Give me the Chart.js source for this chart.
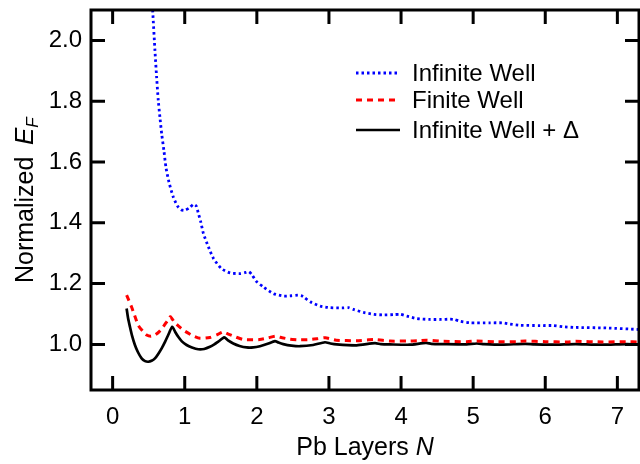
<!DOCTYPE html>
<html>
<head>
<meta charset="utf-8">
<script src="https://cdn.jsdelivr.net/npm/chart.js@4"></script>
<style>
  body { margin: 0; background: #fff; }
  #wrap { width: 640px; height: 464px; }
</style>
</head>
<body>
<div id="wrap"><canvas id="efChart" width="640" height="464"></canvas></div>
<script>
// 数据：从图上读取
const infiniteN = [0.555, 0.587, 0.61, 0.633, 0.656, 0.68, 0.711, 0.739, 0.781, 0.841, 0.90, 0.95, 1.00, 1.07, 1.12, 1.16, 1.19, 1.22, 1.26, 1.33, 1.40, 1.51, 1.63, 1.77, 1.85, 1.89, 1.93, 1.99, 2.09, 2.23, 2.37, 2.48, 2.57, 2.62, 2.66, 2.74, 2.88, 3.01, 3.18, 3.27, 3.34, 3.48, 3.62, 3.75, 3.90, 3.99, 4.08, 4.22, 4.40, 4.55, 4.68, 4.74, 4.82, 4.96, 5.23, 5.40, 5.51, 5.65, 5.93, 6.11, 6.25, 6.39, 6.85, 7.3];
const infiniteE = [2.10, 1.966, 1.879, 1.802, 1.747, 1.693, 1.638, 1.583, 1.534, 1.485, 1.455, 1.443, 1.441, 1.450, 1.461, 1.455, 1.430, 1.405, 1.364, 1.320, 1.282, 1.249, 1.235, 1.233, 1.237, 1.239, 1.230, 1.208, 1.189, 1.167, 1.159, 1.160, 1.162, 1.160, 1.154, 1.140, 1.126, 1.121, 1.120, 1.121, 1.115, 1.105, 1.099, 1.097, 1.098, 1.099, 1.093, 1.085, 1.082, 1.082, 1.083, 1.082, 1.076, 1.071, 1.071, 1.071, 1.067, 1.063, 1.062, 1.062, 1.058, 1.056, 1.054, 1.049];

const finiteN = [0.194, 0.263, 0.355, 0.42, 0.471, 0.53, 0.587, 0.65, 0.702, 0.76, 0.80, 0.864, 0.98, 1.10, 1.211, 1.35, 1.45, 1.53, 1.604, 1.70, 1.81, 1.95, 2.04, 2.15, 2.26, 2.35, 2.46, 2.6, 2.74, 2.85, 2.95, 3.1, 3.38, 3.55, 3.64, 3.85, 4.08, 4.25, 4.35, 4.59, 4.91, 5.05, 5.3, 5.6, 5.72, 6.0, 6.3, 6.42, 6.8, 7.12, 7.3];
const finiteE = [1.162, 1.123, 1.063, 1.043, 1.031, 1.027, 1.031, 1.043, 1.058, 1.078, 1.091, 1.071, 1.047, 1.030, 1.020, 1.023, 1.032, 1.041, 1.034, 1.025, 1.016, 1.015, 1.016, 1.021, 1.027, 1.022, 1.017, 1.015, 1.016, 1.019, 1.022, 1.014, 1.012, 1.015, 1.016, 1.011, 1.011, 1.012, 1.014, 1.010, 1.009, 1.011, 1.009, 1.009, 1.011, 1.009, 1.008, 1.010, 1.008, 1.009, 1.008];

const deltaN = [0.194, 0.215, 0.24, 0.27, 0.309, 0.35, 0.402, 0.45, 0.494, 0.54, 0.587, 0.63, 0.68, 0.73, 0.771, 0.827, 0.87, 0.91, 0.96, 1.026, 1.10, 1.187, 1.27, 1.35, 1.41, 1.465, 1.548, 1.60, 1.673, 1.76, 1.858, 1.95, 2.043, 2.15, 2.251, 2.30, 2.366, 2.48, 2.598, 2.78, 2.944, 3.02, 3.107, 3.384, 3.638, 3.72, 3.846, 4.12, 4.345, 4.42, 4.585, 4.91, 5.05, 5.15, 5.4, 5.72, 5.85, 6.1, 6.42, 6.55, 6.8, 7.13, 7.25, 7.3];
const deltaE = [1.118, 1.085, 1.058, 1.028, 0.998, 0.975, 0.954, 0.945, 0.943, 0.946, 0.954, 0.968, 0.987, 1.010, 1.031, 1.058, 1.040, 1.025, 1.010, 0.998, 0.990, 0.984, 0.985, 0.992, 1.000, 1.009, 1.023, 1.013, 1.003, 0.995, 0.990, 0.990, 0.994, 1.002, 1.011, 1.006, 1.001, 0.996, 0.994, 0.998, 1.007, 1.003, 1.000, 0.997, 1.004, 1.001, 1.000, 0.999, 1.005, 1.002, 1.001, 1.000, 1.003, 1.001, 0.999, 1.002, 1.000, 0.999, 1.001, 1.000, 0.999, 1.001, 1.000, 1.000];

const seriesLabels = ['Infinite Well', 'Finite Well', 'Infinite Well + \u0394'];
const xRange = [-0.3, 7.3];
const yRange = [0.85, 2.1];

const FONT = '"Liberation Sans", Arial, Helvetica, sans-serif';

const toPoints = (xs, ys) => xs.map((x, i) => ({ x: x, y: ys[i] }));

// 线型
const lineStyles = [
    { color: '#0000ff', width: 2.8, dash: [2.5, 3] },
    { color: '#ff0000', width: 3, dash: [6, 5] },
    { color: '#000000', width: 2.7, dash: [] },
];

// 边框、内向刻度、图例和坐标轴标题
const framePlugin = {
    id: 'frame',
    afterDraw(chart) {
        const { ctx, chartArea: a, scales } = chart;
        const x = scales.x, y = scales.y;
        ctx.save();
        ctx.strokeStyle = '#000';
        ctx.lineWidth = 3;
        ctx.strokeRect(a.left, a.top, a.right - a.left, a.bottom - a.top);

        const tick = 14;
        ctx.beginPath();
        x.ticks.forEach(t => {
            const px = x.getPixelForValue(t.value);
            ctx.moveTo(px, a.bottom); ctx.lineTo(px, a.bottom - tick);
            ctx.moveTo(px, a.top); ctx.lineTo(px, a.top + tick);
        });
        y.ticks.forEach(t => {
            const py = y.getPixelForValue(t.value);
            ctx.moveTo(a.left, py); ctx.lineTo(a.left + tick, py);
            ctx.moveTo(a.right, py); ctx.lineTo(a.right - tick, py);
        });
        ctx.stroke();

        // 图例
        ctx.font = '24px ' + FONT;
        ctx.fillStyle = '#000';
        ctx.textBaseline = 'middle';
        ctx.textAlign = 'left';
        const legendY = [73, 100, 130];
        seriesLabels.forEach((label, i) => {
            const s = lineStyles[i];
            ctx.beginPath();
            ctx.strokeStyle = s.color;
            ctx.lineWidth = s.width;
            ctx.setLineDash(s.dash);
            ctx.moveTo(356, legendY[i]);
            ctx.lineTo(400, legendY[i]);
            ctx.stroke();
            ctx.fillText(label, 412, legendY[i] + 1);
        });
        ctx.setLineDash([]);

        // x 轴标题
        ctx.textBaseline = 'alphabetic';
        const xPlain = 'Pb Layers ';
        ctx.font = '25px ' + FONT;
        const w1 = ctx.measureText(xPlain).width;
        ctx.font = 'italic 25px ' + FONT;
        const w2 = ctx.measureText('N').width;
        let sx = (a.left + a.right) / 2 - (w1 + w2) / 2;
        ctx.font = '25px ' + FONT;
        ctx.fillText(xPlain, sx, 455);
        ctx.font = 'italic 25px ' + FONT;
        ctx.fillText('N', sx + w1, 455);

        // y 轴标题
        ctx.translate(33, 283);
        ctx.rotate(-Math.PI / 2);
        ctx.font = '25px ' + FONT;
        ctx.fillText('Normalized', 0, 0);
        ctx.font = 'italic 26px ' + FONT;
        const wE = ctx.measureText('E').width;
        ctx.fillText('E', 138, 0);
        ctx.font = 'italic 17px ' + FONT;
        ctx.fillText('F', 138 + wE, 5);
        ctx.restore();
    }
};

const ctx = document.getElementById('efChart').getContext('2d');
new Chart(ctx, {
    type: 'line',
    data: {
        datasets: [
            { label: seriesLabels[0], data: toPoints(infiniteN, infiniteE) },
            { label: seriesLabels[1], data: toPoints(finiteN, finiteE) },
            { label: seriesLabels[2], data: toPoints(deltaN, deltaE) },
        ].map((d, i) => Object.assign(d, {
            borderColor: lineStyles[i].color,
            borderWidth: lineStyles[i].width,
            borderDash: lineStyles[i].dash,
            pointRadius: 0,
            tension: 0.2,
            fill: false,
        })),
    },
    options: {
        responsive: false,
        animation: false,
        layout: { padding: { top: 10, right: 1, left: 0, bottom: 0 } },
        plugins: { legend: { display: false }, tooltip: { enabled: false } },
        scales: {
            x: {
                type: 'linear',
                min: xRange[0],
                max: xRange[1],
                grid: { display: false, drawTicks: false },
                border: { display: false },
                ticks: {
                    stepSize: 1,
                    includeBounds: false,
                    color: '#000',
                    padding: 13,
                    maxRotation: 0,
                    font: { family: FONT, size: 24 },
                },
                afterFit(scale) {
                    scale.height = 74;
                    scale.paddingLeft = 0;
                    scale.paddingRight = 0;
                },
            },
            y: {
                type: 'linear',
                min: yRange[0],
                max: yRange[1],
                grid: { display: false, drawTicks: false },
                border: { display: false },
                ticks: {
                    stepSize: 0.2,
                    includeBounds: false,
                    color: '#000',
                    padding: 9,
                    font: { family: FONT, size: 24 },
                    callback: v => v.toFixed(1),
                },
                afterFit(scale) {
                    scale.width = 91;
                    scale.paddingTop = 0;
                    scale.paddingBottom = 0;
                },
            },
        },
    },
    plugins: [framePlugin],
});
</script>
</body>
</html>
